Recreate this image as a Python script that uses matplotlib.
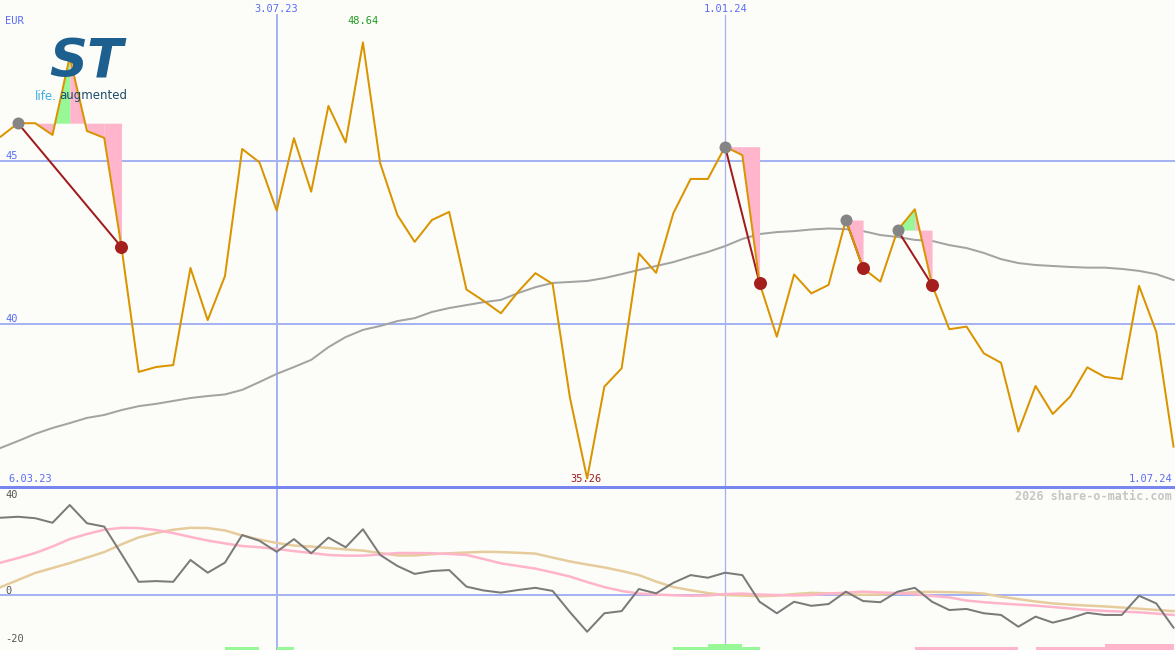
import numpy as np
import pandas as pd
import matplotlib
matplotlib.use('Agg')
import matplotlib.pyplot as plt
import matplotlib.dates as mdates
from matplotlib.lines import Line2D
from matplotlib.transforms import blended_transform_factory

# weekly closing prices [EUR], first week 13.03.23
first_week = '2023-03-13'
price = [45.75, 46.16, 46.16, 45.80, 48.19, 45.92, 45.71, 42.36, 38.53, 38.68,
         38.74, 41.72, 40.12, 41.47, 45.37, 44.96, 43.48, 45.70, 44.06, 46.69,
         45.57, 48.64, 44.93, 43.34, 42.52, 43.19, 43.44, 41.06, 40.71, 40.33,
         40.99, 41.56, 41.23, 37.75, 35.26, 38.08, 38.64, 42.17, 41.57, 43.40,
         44.45, 44.45, 45.44, 45.18, 41.25, 39.61, 41.52, 40.94, 41.20, 43.19,
         41.71, 41.30, 42.88, 43.52, 41.20, 39.84, 39.92, 39.10, 38.81, 36.70,
         38.10, 37.24, 37.77, 38.67, 38.38, 38.31, 41.17, 39.76, 36.24]

# long moving average (grey)
avg = [36.20, 36.41, 36.63, 36.81, 36.96, 37.12, 37.21, 37.36, 37.48, 37.55,
       37.64, 37.73, 37.79, 37.84, 37.98, 38.22, 38.47, 38.68, 38.90, 39.29,
       39.60, 39.82, 39.94, 40.09, 40.18, 40.37, 40.49, 40.58, 40.67, 40.74,
       40.95, 41.13, 41.26, 41.29, 41.32, 41.41, 41.53, 41.66, 41.78, 41.90,
       42.06, 42.21, 42.39, 42.61, 42.76, 42.82, 42.85, 42.90, 42.93, 42.91,
       42.85, 42.73, 42.67, 42.58, 42.55, 42.42, 42.33, 42.18, 41.99, 41.87,
       41.81, 41.78, 41.75, 41.73, 41.73, 41.69, 41.63, 41.53, 41.35]

# lower panel: oscillator and its two smoothings
osc = [32.2, 32.6, 32.0, 30.1, 37.5, 29.9, 28.5, 17.1, 5.5, 5.8,
       5.5, 14.6, 9.3, 13.5, 25.0, 22.6, 18.0, 23.3, 17.4, 23.9,
       19.9, 27.4, 16.7, 12.1, 8.8, 10.0, 10.4, 3.5, 1.9, 1.0,
       2.1, 3.0, 1.7, -7.1, -15.3, -7.6, -6.7, 2.5, 0.7, 5.1,
       8.3, 7.2, 9.3, 8.3, -2.8, -7.6, -2.8, -4.5, -3.75, 1.4,
       -2.5, -3.0, 1.4, 3.0, -2.8, -6.25, -5.8, -7.6, -8.3, -13.2,
       -9.0, -11.5, -9.7, -7.4, -8.3, -8.3, -0.3, -3.5, -13.6]
osc_fast = [13.5, 15.4, 17.5, 20.2, 23.3, 25.4, 27.2, 28.0, 27.9, 27.1,
            25.8, 24.2, 22.7, 21.5, 20.4, 19.9, 19.2, 18.3, 17.5, 16.7,
            16.4, 16.4, 16.9, 17.5, 17.5, 17.4, 17.1, 16.7, 15.0, 13.2,
            12.1, 11.0, 9.4, 7.7, 5.4, 3.3, 1.7, 0.6, 0.2, -0.1,
            -0.3, -0.2, 0.4, 0.6, 0.2, 0.0, -0.2, 0.0, 0.6, 1.0,
            1.4, 1.1, 0.8, 0.4, -0.4, -1.0, -2.3, -3.0, -3.5, -4.0,
            -4.4, -5.0, -5.6, -6.2, -6.6, -6.9, -7.2, -7.75, -8.3]
osc_slow = [3.3, 6.25, 9.2, 11.25, 13.3, 15.6, 17.9, 21.1, 24.0, 25.8,
            27.2, 28.0, 27.9, 26.9, 24.8, 23.1, 21.7, 20.6, 20.2, 19.6,
            19.0, 18.5, 17.5, 16.5, 16.5, 17.0, 17.4, 17.7, 18.0, 17.9,
            17.6, 17.25, 15.6, 14.0, 12.7, 11.5, 10.0, 8.3, 5.6, 3.3,
            2.0, 0.8, 0.0, -0.2, -0.5, -0.25, 0.4, 0.9, 0.7, 0.3,
            0.1, 0.2, 0.7, 1.25, 1.3, 1.2, 1.0, 0.6, -0.7, -1.7,
            -2.7, -3.5, -4.0, -4.4, -4.75, -5.2, -5.7, -6.2, -6.7]

# signals: from (grey dot) -> to (red dot)
sig_from = ['2023-03-20', '2024-01-01', '2024-02-19', '2024-03-11']
sig_to = ['2023-05-01', '2024-01-15', '2024-02-26', '2024-03-25']

# bottom strip: buy / sell weeks and strength
buy_weeks = ['2023-06-12', '2023-06-19', '2023-07-03', '2023-12-11', '2023-12-18',
             '2023-12-25', '2024-01-01', '2024-01-08']
buy_level = [1, 1, 1, 1, 1, 2, 2, 1]
sell_weeks = ['2024-03-18', '2024-03-25', '2024-04-01', '2024-04-08', '2024-04-15',
              '2024-04-22', '2024-05-06', '2024-05-13', '2024-05-20', '2024-05-27',
              '2024-06-03', '2024-06-10', '2024-06-17', '2024-06-24']
sell_level = [1, 1, 1, 1, 1, 1, 1, 1, 1, 1, 2, 2, 2, 2]

vlines = ['2023-07-03', '2024-01-01']
price_ticks = [45, 40]
osc_ticks = [40, 0, -20]
left_label = '6.03.23'
right_label = '1.07.24'

# ---- layout / style
W, H = 1175, 650
H_MAIN = 487
BG = '#fcfdf8'
BLUE_TXT = '#5b6cf5'
GRID = '#a6b3f3'
FONT = 'DejaVu Sans Mono'
px = 0.72  # points per pixel at dpi 100

dates = pd.date_range(first_week, periods=len(price), freq='7D')
x = mdates.date2num(dates)
price = np.array(price)
xpos = dict(zip(dates.strftime('%Y-%m-%d'), range(len(dates))))

fig = plt.figure(figsize=(W / 100, H / 100), dpi=100, facecolor=BG)
ax = fig.add_axes([0, (H - H_MAIN) / H, 1, H_MAIN / H])
ax2 = fig.add_axes([0, 0, 1, (H - H_MAIN) / H])
for a in (ax, ax2):
    a.set_facecolor(BG)
    for s in a.spines.values():
        s.set_visible(False)
    a.set_xticks([])
    a.set_yticks([])
    a.set_xlim(x[0] - 0.3, x[-1] + 0.6)

ax.set_ylim(35.0, 49.94)
ax2.set_ylim(-22.9, 45.0)

# logo (text stand-in)
fig.text(86 / W, 1 - 62 / H, 'ST', fontsize=38, fontweight='bold', style='italic',
         color='#1d5f8e', ha='center', va='center', zorder=0)
fig.text(35 / W, 1 - 96 / H, 'life.', fontsize=8.5, color='#3fb0e2', ha='left', va='center')
fig.text(59 / W, 1 - 96 / H, 'augmented', fontsize=8.5, color='#1d4a6c', ha='left', va='center')

# grid
for t in price_ticks:
    ax.axhline(t, color=GRID, lw=2 * px, zorder=1)
    ax.annotate(str(t), (5 / W, t), xycoords=('axes fraction', 'data'),
                xytext=(0, 5), textcoords='offset pixels', fontsize=7.5,
                family=FONT, color=BLUE_TXT, va='center', ha='left')
for i, d in enumerate(vlines):
    xv = x[xpos[d]]
    lw = 2 * px if i == 0 else 1.3 * px
    ax.axvline(xv, ymax=1 - 15 / H_MAIN, color=GRID, lw=lw, zorder=1)
    ax2.axvline(xv, color=GRID, lw=lw, zorder=1)
    lab = f'{dates[xpos[d]].day}.{dates[xpos[d]].month:02d}.{dates[xpos[d]].year % 100}'
    tr = blended_transform_factory(ax.transData, ax.transAxes)
    ax.text(xv, 1 - 9 / H_MAIN, lab, transform=tr, fontsize=7.5, family=FONT,
            color=BLUE_TXT, ha='center', va='center')

ax.text(5 / W, 1 - 21 / H_MAIN, 'EUR', transform=ax.transAxes, fontsize=7.5,
        family=FONT, color=BLUE_TXT, ha='left', va='center')
ax.text(8 / W, 1 - 479 / H_MAIN, left_label, transform=ax.transAxes, fontsize=7.5,
        family=FONT, color=BLUE_TXT, ha='left', va='center')
ax.text(1172 / W, 1 - 479 / H_MAIN, right_label, transform=ax.transAxes, fontsize=7.5,
        family=FONT, color=BLUE_TXT, ha='right', va='center')

# moving average
ax.plot(x, avg, color='#a3a3a3', lw=2 * px, zorder=2)

# signal shading + connecting lines
for f, t in zip(sig_from, sig_to):
    i0, i1 = xpos[f], xpos[t]
    level = price[i0]
    for i in range(i0, i1):
        col = '#98f898' if price[i + 1] > price[i] else '#ffb6cc'
        ax.fill_between(x[i:i + 2], level, price[i:i + 2], color=col, lw=0, zorder=2)
    ax.plot([x[i0], x[i1]], [price[i0], price[i1]], color='#a01c1c', lw=2 * px, zorder=3)

# price
ax.plot(x, price, color='#d99400', lw=2 * px, zorder=4)

for f, t in zip(sig_from, sig_to):
    i0, i1 = xpos[f], xpos[t]
    ax.plot(x[i0], price[i0], 'o', color='#858585', ms=12 * px, mew=0, zorder=5)
    ax.plot(x[i1], price[i1], 'o', color='#a51f1f', ms=13 * px, mew=0, zorder=5)

tr = blended_transform_factory(ax.transData, ax.transAxes)
imax, imin = int(np.argmax(price)), int(np.argmin(price))
ax.text(x[imax], 1 - 21 / H_MAIN, f'{price[imax]:.2f}', transform=tr, fontsize=7.5,
        family=FONT, color='#1f9a1f', ha='center', va='center')
ax.text(x[imin] - 0.3, 1 - 479 / H_MAIN, f'{price[imin]:.2f}', transform=tr, fontsize=7.5,
        family=FONT, color='#a01c1c', ha='center', va='center', zorder=6)

# separator between panels
fig.add_artist(Line2D([0, 1], [(H - H_MAIN) / H] * 2, transform=fig.transFigure,
                      color='#7886ef', lw=3 * px))

# lower panel
ax2.axhline(0, color=GRID, lw=2 * px, zorder=1)
for t in osc_ticks:
    ax2.annotate(str(t), (5 / W, t), xycoords=('axes fraction', 'data'),
                 xytext=(0, 4), textcoords='offset pixels', fontsize=7.5,
                 family=FONT, color='#555555', va='center', ha='left')
ax2.plot(x, osc_slow, color='#e6cc9c', lw=2.5 * px, zorder=2)
ax2.plot(x, osc_fast, color='#ffb4cc', lw=2.5 * px, zorder=2)
ax2.plot(x, osc, color='#7a7a7a', lw=2 * px, zorder=3)

unit = 3 / 2.4  # 3 px per strength step in data units
ybot = ax2.get_ylim()[0]
ax2.bar(mdates.date2num(pd.to_datetime(buy_weeks)), np.array(buy_level) * unit,
        width=7, align='edge', bottom=ybot, color='#98f898', lw=0, zorder=2)
ax2.bar(mdates.date2num(pd.to_datetime(sell_weeks)), np.array(sell_level) * unit,
        width=7, align='edge', bottom=ybot, color='#ffb6cc', lw=0, zorder=2)

ax2.text(1172 / W, 1 - 9 / (H - H_MAIN), '2026 share-o-matic.com', transform=ax2.transAxes,
         fontsize=8.5, fontweight='bold', family=FONT, color='#c6c6c6',
         ha='right', va='center')

fig.savefig('out.png', dpi=100, facecolor=BG)
